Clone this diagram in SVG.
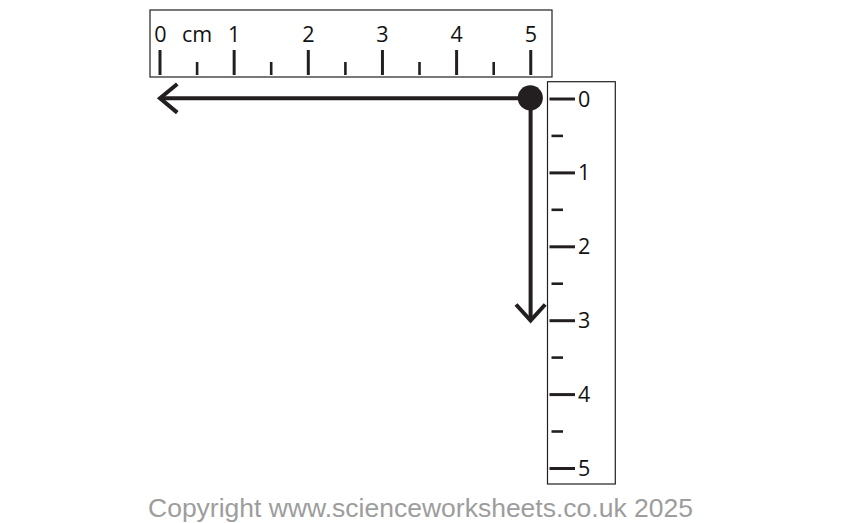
<svg xmlns="http://www.w3.org/2000/svg" width="842" height="523" viewBox="0 0 842 523">
<style>
.frame{fill:#fff;stroke:#231f20;stroke-width:1.2}
.maj{stroke:#231f20;stroke-width:3}
.min{stroke:#231f20;stroke-width:2.6}
.lbl{font-family:"Open Sans","DejaVu Sans",sans-serif;font-size:21.5px;fill:#111}
.arr{fill:none;stroke:#231f20;stroke-width:4;stroke-linecap:butt}
.copy{font-family:"Liberation Sans",Arial,sans-serif;font-size:26.5px;fill:#9d9d9d}
</style>
<rect width="842" height="523" fill="#fff"/>
<g id="ruler-horizontal">
<rect class="frame" x="150" y="10" width="402" height="67"/>
<g>
<line class="maj" x1="160" y1="50" x2="160" y2="75"/>
<line class="maj" x1="234.15" y1="50" x2="234.15" y2="75"/>
<line class="maj" x1="308.3" y1="50" x2="308.3" y2="75"/>
<line class="maj" x1="382.45" y1="50" x2="382.45" y2="75"/>
<line class="maj" x1="456.6" y1="50" x2="456.6" y2="75"/>
<line class="maj" x1="530.75" y1="50" x2="530.75" y2="75"/>
<line class="min" x1="197.1" y1="62" x2="197.1" y2="75"/>
<line class="min" x1="271.2" y1="62" x2="271.2" y2="75"/>
<line class="min" x1="345.4" y1="62" x2="345.4" y2="75"/>
<line class="min" x1="419.5" y1="62" x2="419.5" y2="75"/>
<line class="min" x1="493.7" y1="62" x2="493.7" y2="75"/>
</g>
<g class="lbl" text-anchor="middle">
<text x="160.5" y="41.7">0</text>
<text x="197" y="41.7">cm</text>
<text x="234.2" y="41.7">1</text>
<text x="308.3" y="41.7">2</text>
<text x="382.5" y="41.7">3</text>
<text x="456.6" y="41.7">4</text>
<text x="530.8" y="41.7">5</text>
</g>
</g>
<g id="ruler-vertical">
<rect class="frame" x="547.5" y="81.7" width="67.8" height="402.3"/>
<g>
<line class="maj" x1="549.5" y1="99" x2="575" y2="99"/>
<line class="maj" x1="549.5" y1="172.9" x2="575" y2="172.9"/>
<line class="maj" x1="549.5" y1="246.8" x2="575" y2="246.8"/>
<line class="maj" x1="549.5" y1="320.7" x2="575" y2="320.7"/>
<line class="maj" x1="549.5" y1="394.6" x2="575" y2="394.6"/>
<line class="maj" x1="549.5" y1="468.5" x2="575" y2="468.5"/>
<line class="min" x1="551.5" y1="135.9" x2="563" y2="135.9"/>
<line class="min" x1="551.5" y1="209.8" x2="563" y2="209.8"/>
<line class="min" x1="551.5" y1="283.7" x2="563" y2="283.7"/>
<line class="min" x1="551.5" y1="357.6" x2="563" y2="357.6"/>
<line class="min" x1="551.5" y1="431.5" x2="563" y2="431.5"/>
</g>
<g class="lbl">
<text x="578" y="106.5">0</text>
<text x="578" y="180.4">1</text>
<text x="578" y="254.3">2</text>
<text x="578" y="328.2">3</text>
<text x="578" y="402.1">4</text>
<text x="578" y="476">5</text>
</g>
</g>
<g id="connectors">
<line class="arr" x1="161" y1="98.3" x2="530" y2="98.3"/>
<polyline class="arr" points="177.3,84 160,98.3 177.3,112.6"/>
<line class="arr" x1="530.6" y1="98" x2="530.6" y2="320"/>
<polyline class="arr" points="516,304.5 530.6,320.5 545.2,304.5"/>
</g>
<g id="origin">
<circle cx="530.3" cy="97.8" r="12.6" fill="#231f20"/>
</g>
<text class="copy" x="148" y="516.7">Copyright www.scienceworksheets.co.uk 2025</text>
</svg>
